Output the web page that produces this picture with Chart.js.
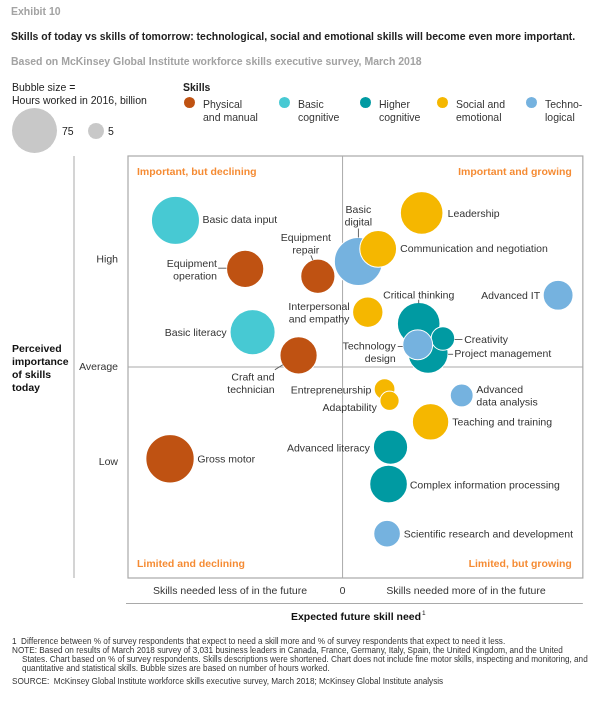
<!DOCTYPE html>
<html>
<head>
<meta charset="utf-8">
<script src="https://cdn.jsdelivr.net/npm/chart.js@4.4.1/dist/chart.umd.min.js"></script>
<style>
  body { margin: 0; background: #fff; font-family: "Liberation Sans", Arial, sans-serif; color: #222; }
  #wrap { position: relative; width: 608px; height: 702px; overflow: hidden; }
  #chart { position: absolute; left: 0; top: 0; }
  .t { position: absolute; white-space: nowrap; font-size: 10.5px; line-height: 13px; }
  .b { font-weight: bold; }
  .grey { color: #a3a3a3; }
  .dot { position: absolute; border-radius: 50%; }
  .note { position: absolute; left: 12px; white-space: nowrap; font-size: 8.2px; line-height: 9px; color: #333; }
  .note .in { padding-left: 10px; }
</style>
</head>
<body>
<div id="wrap">
  <canvas id="chart" width="608" height="702"></canvas>

  <div class="t b grey" style="left:11px;top:5px">Exhibit 10</div>
  <div class="t b" style="left:11px;top:30px">Skills of today vs skills of tomorrow: technological, social and emotional skills will become even more important.</div>
  <div class="t b grey" style="left:11px;top:55px">Based on McKinsey Global Institute workforce skills executive survey, March 2018</div>

  <div class="t" style="left:12px;top:81px">Bubble size =<br>Hours worked in 2016, billion</div>
  <div class="dot" style="left:12px;top:108px;width:45px;height:45px;background:#c8c8c8"></div>
  <div class="t" style="left:62px;top:125px">75</div>
  <div class="dot" style="left:88px;top:123px;width:16px;height:16px;background:#c8c8c8"></div>
  <div class="t" style="left:108px;top:125px">5</div>

  <div class="t b" style="left:183px;top:81px">Skills</div>
  <div id="legend"></div>

  <div class="note" style="top:637px">
    1&nbsp; Difference between % of survey respondents that expect to need a skill more and % of survey respondents that expect to need it less.<br>
    NOTE: Based on results of March 2018 survey of 3,031 business leaders in Canada, France, Germany, Italy, Spain, the United Kingdom, and the United<br>
    <span class="in">States. Chart based on % of survey respondents. Skills descriptions were shortened. Chart does not include fine motor skills, inspecting and monitoring, and</span><br>
    <span class="in">quantitative and statistical skills. Bubble sizes are based on number of hours worked.</span>
  </div>
  <div class="note" style="top:677px">SOURCE:&nbsp; McKinsey Global Institute workforce skills executive survey, March 2018; McKinsey Global Institute analysis</div>
</div>

<script>
const categories = ['Physical and manual', 'Basic cognitive', 'Higher cognitive', 'Social and emotional', 'Technological'];
const legendLabels = ['Physical\nand manual', 'Basic\ncognitive', 'Higher\ncognitive', 'Social and\nemotional', 'Techno-\nlogical'];
const categoryColors = ['#bf5212', '#47c9d3', '#009aa2', '#f5b700', '#75b2df'];

// skills, in drawing order; \n marks the label line breaks
const skillNames = [
  'Basic data input', 'Equipment\noperation', 'Equipment\nrepair', 'Basic literacy',
  'Craft and\ntechnician', 'Gross motor', 'Leadership', 'Basic\ndigital',
  'Communication and negotiation', 'Advanced IT', 'Interpersonal\nand empathy',
  'Project management', 'Critical thinking', 'Technology\ndesign', 'Creativity',
  'Entrepreneurship', 'Adaptability', 'Advanced\ndata analysis', 'Teaching and training',
  'Advanced literacy', 'Complex information processing', 'Scientific research and development'
];
// index into categories
const skillGroup = [1, 0, 0, 1, 0, 0, 3, 4, 3, 4, 3, 2, 2, 4, 2, 3, 3, 4, 3, 2, 2, 4];
// expected future skill need (x) and perceived importance today (y)
const futureNeed = [-33.8, -19.7, -5.0, -18.2, -8.9, -34.9, 16.0, 3.2, 7.2, 43.6, 5.1,
                    17.3, 15.4, 15.2, 20.3, 8.5, 9.5, 24.1, 17.8, 9.7, 9.3, 9.0];
const importanceToday = [1.39, 0.93, 0.86, 0.33, 0.11, -0.87, 1.46, 1.0, 1.12, 0.68, 0.52,
                         0.13, 0.41, 0.21, 0.27, -0.21, -0.32, -0.27, -0.52, -0.76, -1.11, -1.58];
// hours worked in 2016, billion
const hoursWorked = [75, 45, 38, 66, 45, 76, 59, 75, 44, 29, 30, 52, 59, 29, 18, 14, 12, 17, 43, 38, 46, 23];

const importanceTicks = [-0.9, 0, 1.02];
const importanceTickLabels = ['Low', 'Average', 'High'];

// label placement around each bubble (px from centre), same order as skillNames
const labelPlace = [
  { a: 'left', dx: 27, dy: 0 },
  { a: 'right', dx: -28.2, dy: 1.5, lead: [-27, -0.7, -18.7, -0.7] },
  { a: 'center', dx: -12, dy: -32, lead: [-7, -21, -5, -16.2] },
  { a: 'right', dx: -26, dy: 1 },
  { a: 'right', dx: -24, dy: 28.3, lead: [-23.7, 14.3, -15.7, 9.3] },
  { a: 'left', dx: 27.3, dy: 1 },
  { a: 'left', dx: 26, dy: 1 },
  { a: 'center', dx: 0, dy: -45, lead: [0, -33, 0, -24] },
  { a: 'left', dx: 22, dy: 0.5 },
  { a: 'right', dx: -18, dy: 1 },
  { a: 'center', dx: -48.7, dy: 1 },
  { a: 'left', dx: 26.3, dy: 1, lead: [20, 1, 25, 1] },
  { a: 'center', dx: 0, dy: -28, lead: [0, -24, 0, -20.5] },
  { a: 'right', dx: -22, dy: 8, lead: [-20, 1.7, -15, 1.7] },
  { a: 'left', dx: 21.3, dy: 1.7, lead: [11.7, 1, 19.5, 1] },
  { a: 'right', dx: -13.3, dy: 1.4 },
  { a: 'right', dx: -12.7, dy: 7.3 },
  { a: 'left', dx: 14.7, dy: 0.9 },
  { a: 'left', dx: 21.7, dy: 0.7 },
  { a: 'right', dx: -20.7, dy: 1.3 },
  { a: 'left', dx: 21.3, dy: 1.4 },
  { a: 'left', dx: 16.7, dy: 1 }
];

const FONT = '"Liberation Sans", Arial, sans-serif';
const ORANGE = '#f58b33';
const radiusFor = h => 24 * Math.sqrt(h / 75);

// legend
const legendSlotX = [184, 279, 360, 437, 526];
const legend = document.getElementById('legend');
categories.forEach((c, i) => {
  const dot = document.createElement('div');
  dot.className = 'dot';
  dot.style.cssText = `left:${legendSlotX[i]}px;top:97px;width:11px;height:11px;background:${categoryColors[i]}`;
  legend.appendChild(dot);
  const txt = document.createElement('div');
  txt.className = 't';
  txt.style.cssText = `left:${legendSlotX[i] + 19}px;top:97.5px;color:#333`;
  txt.innerHTML = legendLabels[i].replace('\n', '<br>');
  legend.appendChild(txt);
});

// datasets by category, remembering where each skill ends up
const where = [];
const datasets = categories.map((c, g) => {
  const data = [];
  skillGroup.forEach((sg, i) => {
    if (sg !== g) return;
    where[i] = [g, data.length];
    data.push({ x: futureNeed[i], y: importanceToday[i], r: radiusFor(hoursWorked[i]) });
  });
  return {
    label: c,
    data: data,
    backgroundColor: categoryColors[g],
    borderColor: '#ffffff',
    borderWidth: 1,
    hoverRadius: 0,
    order: [4, 5, 3, 1, 2][g]
  };
});

function line(ctx, x1, y1, x2, y2) {
  ctx.beginPath();
  ctx.moveTo(x1, y1);
  ctx.lineTo(x2, y2);
  ctx.stroke();
}

const decor = {
  id: 'decor',
  beforeDatasetsDraw(chart) {
    const { ctx, chartArea: a, scales: { x, y } } = chart;
    ctx.save();
    ctx.strokeStyle = '#a9a9a9';
    ctx.lineWidth = 1.2;
    ctx.strokeRect(a.left, a.top, a.right - a.left, a.bottom - a.top);
    const x0 = x.getPixelForValue(0), y0 = y.getPixelForValue(0);
    ctx.lineWidth = 1;
    line(ctx, x0, a.top, x0, a.bottom);
    line(ctx, a.left, y0, a.right, y0);
    line(ctx, 74, a.top, 74, a.bottom);
    line(ctx, a.left - 2, 603.5, a.right, 603.5);

    ctx.fillStyle = ORANGE;
    ctx.font = 'bold 10.5px ' + FONT;
    ctx.textBaseline = 'middle';
    ctx.textAlign = 'left';
    ctx.fillText('Important, but declining', a.left + 9, a.top + 16);
    ctx.fillText('Limited and declining', a.left + 9, a.bottom - 14);
    ctx.textAlign = 'right';
    ctx.fillText('Important and growing', a.right - 11, a.top + 16);
    ctx.fillText('Limited, but growing', a.right - 11, a.bottom - 14);
    ctx.restore();
  },
  afterDatasetsDraw(chart) {
    const { ctx, chartArea: a, scales: { x } } = chart;
    ctx.save();
    ctx.font = '10.5px ' + FONT;
    ctx.textBaseline = 'middle';
    ctx.fillStyle = '#333';
    ctx.strokeStyle = '#555';
    ctx.lineWidth = 0.9;
    skillNames.forEach((name, i) => {
      const [g, k] = where[i];
      const el = chart.getDatasetMeta(g).data[k];
      const p = labelPlace[i];
      const lines = name.split('\n');
      const lh = 12.5;
      ctx.textAlign = p.a;
      const y0 = el.y + p.dy - (lines.length - 1) * lh / 2;
      lines.forEach((s, j) => ctx.fillText(s, el.x + p.dx, y0 + j * lh));
      if (p.lead) line(ctx, el.x + p.lead[0], el.y + p.lead[1], el.x + p.lead[2], el.y + p.lead[3]);
    });

    // x axis texts
    const x0 = x.getPixelForValue(0);
    ctx.textAlign = 'center';
    ctx.fillText('0', x0, 591);
    ctx.fillText('Skills needed less of in the future', 230, 591);
    ctx.fillText('Skills needed more of in the future', 466, 591);

    ctx.fillStyle = '#111';
    ctx.font = 'bold 10.5px ' + FONT;
    ctx.textAlign = 'left';
    const title = 'Expected future skill need';
    const w = ctx.measureText(title).width;
    const tx = 356 - w / 2;
    ctx.fillText(title, tx, 617);
    ctx.font = '6.5px ' + FONT;
    ctx.fillText('1', tx + w + 1, 613);

    ctx.font = 'bold 10.5px ' + FONT;
    ['Perceived', 'importance', 'of skills', 'today'].forEach((s, j) => ctx.fillText(s, 12, 349 + j * 13));
    ctx.restore();
  }
};

new Chart(document.getElementById('chart'), {
  type: 'bubble',
  data: { datasets: datasets },
  options: {
    responsive: false,
    animation: false,
    devicePixelRatio: 2,
    events: [],
    layout: { padding: { left: 0, top: 156, right: 20, bottom: 124 } },
    plugins: { legend: { display: false }, tooltip: { enabled: false } },
    scales: {
      x: { type: 'linear', display: false, min: -43.4, max: 48.6 },
      y: {
        type: 'linear', min: -2, max: 2,
        grid: { display: false, drawTicks: false },
        border: { display: false },
        afterFit: s => { s.width = 128; },
        afterBuildTicks: s => { s.ticks = importanceTicks.map(v => ({ value: v })); },
        ticks: {
          padding: 10,
          color: '#333',
          font: { family: FONT, size: 10.5 },
          callback: (v, i) => importanceTickLabels[i]
        }
      }
    }
  },
  plugins: [decor]
});
</script>
</body>
</html>
